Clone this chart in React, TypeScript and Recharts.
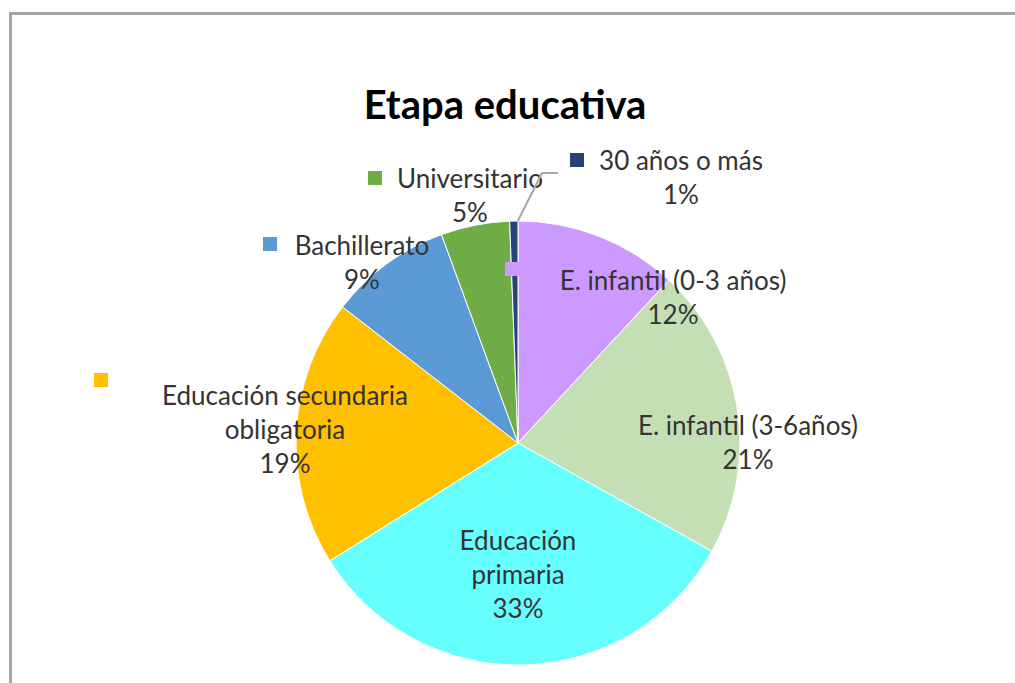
import React from "react";
import { PieChart, Pie, Cell } from "recharts";

const categories = [
  "E. infantil (0-3 años)",
  "E. infantil (3-6años)",
  "Educación primaria",
  "Educación secundaria obligatoria",
  "Bachillerato",
  "Universitario",
  "30 años o más",
];
const values = [11.9, 21.2, 33.0, 19.4, 8.9, 5.0, 0.6];
const colors = ["#cc99ff", "#c4dfb3", "#66ffff", "#ffc000", "#5b9bd5", "#70ad47", "#264478"];
// label lines per category (text only)
const labelLines = [
  ["E. infantil (0-3 años)"],
  ["E. infantil (3-6años)"],
  ["Educación", "primaria"],
  ["Educación secundaria", "obligatoria"],
  ["Bachillerato"],
  ["Universitario"],
  ["30 años o más"],
];

const data = categories.map((name, i) => ({ name, value: values[i] }));

// label layout relative to pie centre: text centre x, first line y, key offset
const layout = [
  { dx: 155, dy: -163, kx: -13, ky: -181 },
  { dx: 230, dy: -18, kx: null, ky: null },
  { dx: 0, dy: 97, kx: null, ky: null },
  { dx: -233, dy: -48, kx: -424, ky: -70 },
  { dx: -156, dy: -198, kx: -255, ky: -206 },
  { dx: -48, dy: -265, kx: -150, ky: -272 },
  { dx: 163, dy: -283, kx: 52, ky: -290 },
];

const FONT = "Lato, 'Open Sans', sans-serif";
const LINE = 34;
const KEY = 14;

const renderLabel = (props: any) => {
  const { cx, cy, index, percent } = props;
  const l = layout[index];
  const lines = [...labelLines[index], `${Math.round(percent * 100)}%`];
  const x = cx + l.dx;
  const y0 = cy + l.dy;
  return (
    <g key={`lbl-${index}`}>
      {l.kx !== null && (
        <rect x={cx + l.kx} y={cy + l.ky} width={KEY} height={KEY} fill={colors[index]} />
      )}
      <text
        x={x}
        y={y0}
        textAnchor="middle"
        fontFamily={FONT}
        fontSize={26}
        fill="#333333"
      >
        {lines.map((t, i) => (
          <tspan key={i} x={x} y={y0 + i * LINE} dominantBaseline="central">
            {t}
          </tspan>
        ))}
      </text>
    </g>
  );
};

const renderLabelLine = (props: any) => {
  const { cx, cy, midAngle, outerRadius, index } = props;
  if (index !== 6) return <g key={`ll-${index}`} />;
  const rad = (Math.PI / 180) * midAngle;
  const sx = cx + outerRadius * Math.cos(rad) + 4;
  const sy = cy - outerRadius * Math.sin(rad);
  const l = layout[index];
  const ex = cx + l.kx - 12;
  const ey = cy + l.ky + 20;
  return (
    <polyline
      key={`ll-${index}`}
      points={`${sx},${sy} ${ex - 16},${ey} ${ex},${ey}`}
      fill="none"
      stroke="#a6a6a6"
      strokeWidth={2}
    />
  );
};

export default function App() {
  return (
    <div style={{ position: "absolute", left: 0, top: 0, width: 1015, height: 683, background: "#fff" }}>
      <div
        style={{
          position: "absolute",
          left: 9,
          top: 12,
          width: 1015,
          height: 683,
          borderLeft: "3px solid #a6a6a6",
          borderTop: "3px solid #a6a6a6",
          boxSizing: "border-box",
        }}
      />
      <PieChart width={1015} height={683} style={{ position: "absolute", left: 0, top: 0 }}>
        <text
          x={505}
          y={104}
          textAnchor="middle"
          dominantBaseline="central"
          fontFamily={FONT}
          fontWeight="bold"
          fontSize={40}
          fill="#000"
        >
          Etapa educativa
        </text>
        <Pie
          data={data}
          dataKey="value"
          nameKey="name"
          cx={513}
          cy={438}
          outerRadius={222}
          startAngle={90}
          endAngle={-270}
          stroke="#ffffff"
          strokeWidth={1}
          isAnimationActive={false}
          label={renderLabel}
          labelLine={renderLabelLine}
        >
          {data.map((d, i) => (
            <Cell key={d.name} fill={colors[i]} />
          ))}
        </Pie>
      </PieChart>
    </div>
  );
}
